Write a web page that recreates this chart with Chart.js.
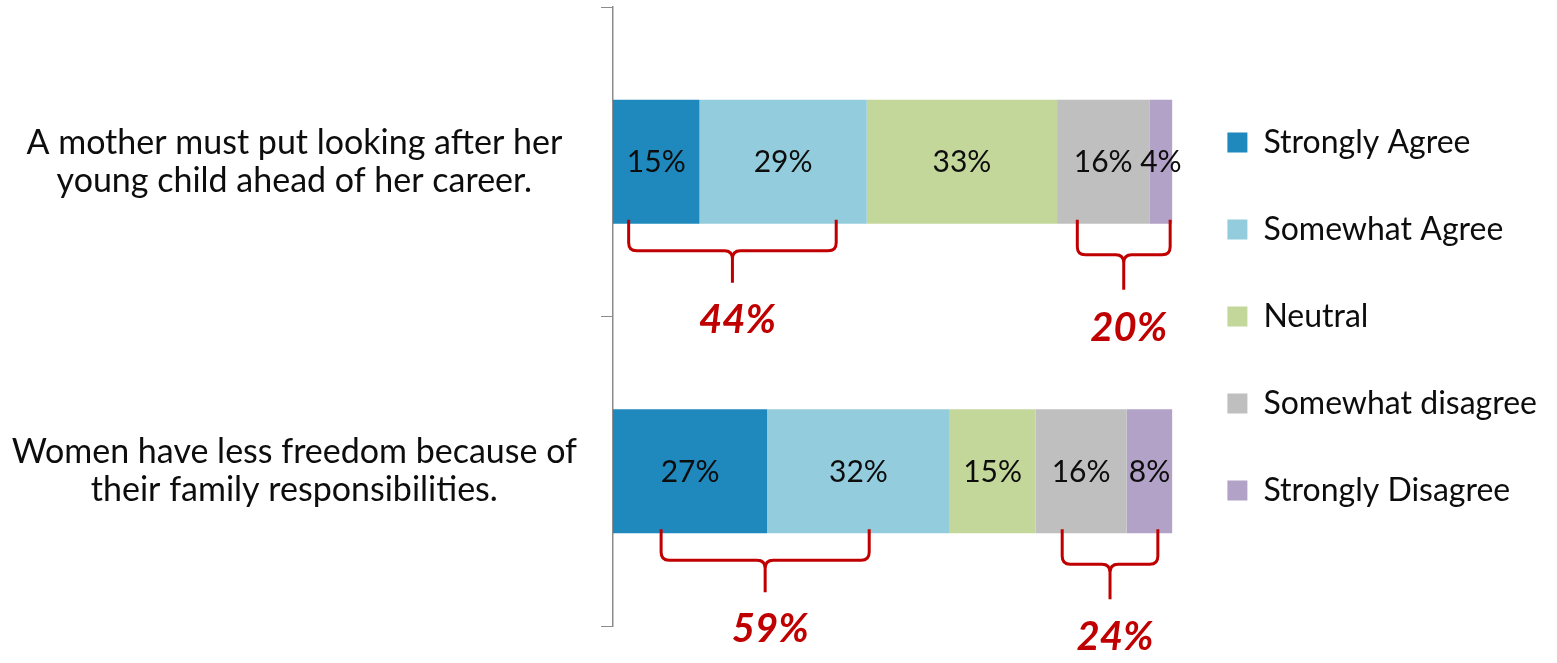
<!DOCTYPE html>
<html>
<head>
<meta charset="utf-8">
<script src="https://cdn.jsdelivr.net/npm/chart.js@4.4.0/dist/chart.umd.min.js"></script>
<style>
  html, body { margin: 0; padding: 0; background: #fff; }
</style>
</head>
<body>
<canvas id="likert" width="1557" height="663"></canvas>
<script>
var categories = [
    ["A mother must put looking after her", "young child ahead of her career."],
    ["Women have less freedom because of", "their family responsibilities."]
];
var seriesNames = ["Strongly Agree", "Somewhat Agree", "Neutral", "Somewhat disagree", "Strongly Disagree"];
var stronglyAgree = [15, 27];
var somewhatAgree = [29, 32];
var neutral = [33, 15];
var somewhatDisagree = [16, 16];
var stronglyDisagree = [4, 8];

// bracket totals and the span each bracket covers, in axis units (0-100)
var agreeTotals = [44, 59];
var disagreeTotals = [20, 24];
var agreeSpans = [[2.8, 39.9], [8.6, 45.8]];
var disagreeSpans = [[83, 99.6], [80.3, 97.4]];

var colors = ["#1F88BC", "#93CDDD", "#C4D79B", "#BFBFBF", "#B2A2C7"];
var FONT = "Lato, 'Open Sans', sans-serif";

var rows = [stronglyAgree, somewhatAgree, neutral, somewhatDisagree, stronglyDisagree];
var totals = categories.map(function(c, i) {
    return rows.reduce(function(s, r) { return s + r[i]; }, 0);
});

var datasets = rows.map(function(r, k) {
    return {
        label: seriesNames[k],
        raw: r,
        data: r.map(function(v, i) { return v / totals[i] * 100; }),
        backgroundColor: colors[k],
        borderWidth: 0,
        barPercentage: 0.4,
        categoryPercentage: 1
    };
});

// percent labels inside each segment
var segmentLabels = {
    id: 'segmentLabels',
    afterDatasetsDraw: function(chart) {
        var ctx = chart.ctx;
        ctx.save();
        ctx.font = "30px " + FONT;
        ctx.fillStyle = "#0d0d0d";
        ctx.textAlign = "center";
        ctx.textBaseline = "middle";
        chart.data.datasets.forEach(function(ds, k) {
            chart.getDatasetMeta(k).data.forEach(function(bar, i) {
                ctx.fillText(ds.raw[i] + "%", (bar.x + bar.base) / 2, bar.y + 1);
            });
        });
        ctx.restore();
    }
};

function drawBrace(ctx, x1, x2, top, drop, point) {
    var mid = (x1 + x2) / 2;
    var r = 8;
    var h = top + drop;
    ctx.beginPath();
    ctx.moveTo(x1, top);
    ctx.lineTo(x1, h - r);
    ctx.quadraticCurveTo(x1, h, x1 + r, h);
    ctx.lineTo(mid - r, h);
    ctx.quadraticCurveTo(mid, h, mid, h + r);
    ctx.lineTo(mid, h + point);
    ctx.moveTo(mid, h + r);
    ctx.quadraticCurveTo(mid, h, mid + r, h);
    ctx.lineTo(x2 - r, h);
    ctx.quadraticCurveTo(x2, h, x2, h - r);
    ctx.lineTo(x2, top);
    ctx.stroke();
}

var braces = {
    id: 'braces',
    afterDraw: function(chart) {
        var ctx = chart.ctx;
        var xs = chart.scales.x;
        var meta = chart.getDatasetMeta(0);
        ctx.save();
        ctx.strokeStyle = "#C00000";
        ctx.fillStyle = "#C00000";
        ctx.lineWidth = 3;
        ctx.font = "italic bold 40px " + FONT;
        ctx.textAlign = "center";
        ctx.textBaseline = "middle";
        meta.data.forEach(function(bar, i) {
            var bottom = bar.y + bar.height / 2;
            var groups = [
                [agreeSpans[i], agreeTotals[i], 31, 32, 37],
                [disagreeSpans[i], disagreeTotals[i], 35, 35, 38]
            ];
            groups.forEach(function(g) {
                var x1 = xs.getPixelForValue(g[0][0]);
                var x2 = xs.getPixelForValue(g[0][1]);
                var top = bottom - 4;
                drawBrace(ctx, x1, x2, top, g[2], g[3]);
                ctx.fillText(g[1] + "%", (x1 + x2) / 2 + 5, top + g[2] + g[3] + g[4]);
            });
        });
        ctx.restore();
    }
};

var chart = new Chart(document.getElementById('likert').getContext('2d'), {
    type: 'bar',
    data: {
        labels: categories,
        datasets: datasets
    },
    options: {
        indexAxis: 'y',
        responsive: false,
        animation: false,
        layout: {
            padding: { top: 7, bottom: 37, left: 0, right: 10 }
        },
        scales: {
            x: {
                stacked: true,
                display: false,
                min: 0,
                max: 100
            },
            y: {
                stacked: true,
                afterFit: function(scale) {
                    scale.width = 613;
                    scale.paddingTop = 0;
                    scale.paddingBottom = 0;
                },
                grid: {
                    drawOnChartArea: false,
                    tickLength: 12,
                    color: "#8C8C8C"
                },
                border: { color: "#8C8C8C", width: 1.5 },
                ticks: {
                    crossAlign: 'center',
                    padding: 24,
                    color: "#0d0d0d",
                    font: { family: FONT, size: 34, lineHeight: 1.12 }
                }
            }
        },
        plugins: {
            tooltip: { enabled: false },
            legend: {
                position: 'right',
                align: 'center',
                labels: {
                    boxWidth: 20,
                    boxHeight: 20,
                    padding: 55,
                    color: "#0d0d0d",
                    font: { family: FONT, size: 32 }
                }
            }
        }
    },
    plugins: [segmentLabels, braces]
});
</script>
</body>
</html>
